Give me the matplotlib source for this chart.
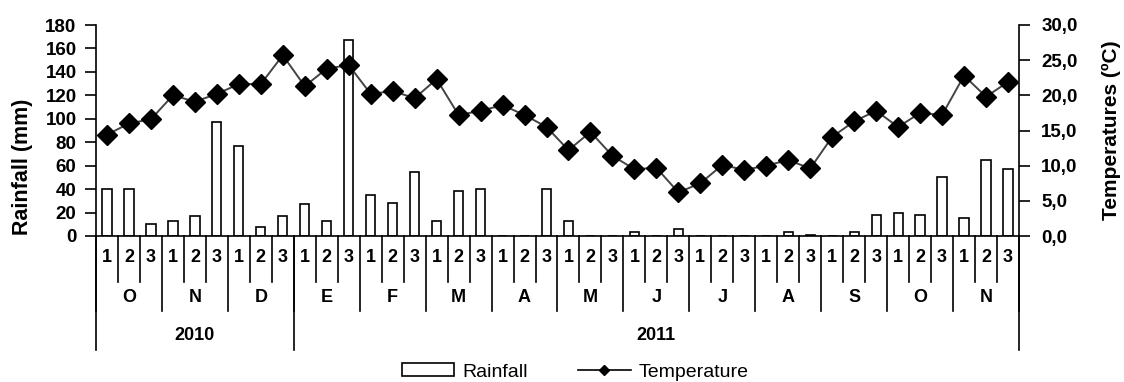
import matplotlib
matplotlib.use("Agg")
import matplotlib.pyplot as plt
from matplotlib.patches import Rectangle
from matplotlib.lines import Line2D
import numpy as np

plt.rcParams['font.family'] = ['Liberation Sans', 'DejaVu Sans']

# 10-day periods (dekads), Oct 2010 - Nov 2011
months = ['O', 'N', 'D', 'E', 'F', 'M', 'A', 'M', 'J', 'J', 'A', 'S', 'O', 'N']
years = ['2010', '2011']
months_per_year = [3, 11]
dekad_labels = ['1', '2', '3']

rainfall = [40, 40, 10, 13, 17, 97, 77, 8, 17, 27, 13, 167, 35, 28,
            55, 13, 38, 40, 0, 0, 40, 13, 0, 0, 3, 0, 6, 0,
            0, 0, 0, 3, 1, 0, 3, 18, 20, 18, 50, 15, 65, 57]
temperature = [14.4, 16.0, 16.6, 20.0, 19.1, 20.2, 21.6, 21.6, 25.7, 21.3, 23.8, 24.3, 20.2, 20.6,
               19.6, 22.3, 17.2, 17.8, 18.6, 17.2, 15.5, 12.2, 14.8, 11.4, 9.5, 9.7, 6.2, 7.5,
               10.1, 9.4, 10.0, 10.8, 9.6, 14.1, 16.3, 17.8, 15.5, 17.5, 17.2, 22.8, 19.8, 21.9]

W, H = 1124, 382
fig = plt.figure(figsize=(W / 100, H / 100), dpi=100)
left, right, top, bottom = 96, 1019, 25, 236
ax = fig.add_axes([left / W, 1 - bottom / H, (right - left) / W, (bottom - top) / H])

tick_fs = 13.5
cat_fs = 13

n = len(rainfall)
x = np.arange(n)
ax.bar(x, rainfall, width=0.42, color='white', edgecolor='black', linewidth=1.2, zorder=2)
ax.set_xlim(-0.5, n - 0.5)
ax.set_ylim(0, 180)
ax.set_yticks(np.arange(0, 181, 20))
ax.set_xticks([])
ax.tick_params(axis='y', direction='out', length=8, width=1.2, labelsize=tick_fs, pad=6)
for lab in ax.get_yticklabels():
    lab.set_fontweight('bold')
ax.spines['top'].set_visible(False)
ax.spines['right'].set_visible(False)
for s in ['left', 'bottom']:
    ax.spines[s].set_linewidth(1.2)
ax.set_ylabel('Rainfall (mm)', fontsize=15.5, fontweight='bold')
ax.yaxis.set_label_coords(-0.068, 0.33)

ax2 = ax.twinx()
ax2.plot(x, temperature, color='#444444', linewidth=1.4, marker='D', markersize=10,
         markerfacecolor='black', markeredgecolor='black', zorder=3)
ax2.set_ylim(0, 30)
ax2.set_yticks(np.arange(0, 31, 5))
ax2.set_yticklabels([f'{v:.1f}'.replace('.', ',') for v in np.arange(0, 31, 5)])
ax2.tick_params(axis='y', direction='out', length=8, width=1.2, labelsize=tick_fs, pad=8)
for lab in ax2.get_yticklabels():
    lab.set_fontweight('bold')
ax2.spines['top'].set_visible(False)
ax2.spines['left'].set_visible(False)
ax2.spines['bottom'].set_visible(False)
ax2.spines['right'].set_linewidth(1.2)
ax2.set_ylabel('Temperatures (ºC)', fontsize=15, fontweight='bold')
ax2.yaxis.set_label_coords(1.090, 0.5)

# category table under the axis
tr = ax.get_xaxis_transform()
ph = bottom - top
def fy(py):
    return (bottom - py) / ph

for i in range(n):
    ax.text(i, fy(258), dekad_labels[i % 3], transform=tr, ha='center', va='center',
            fontsize=cat_fs, fontweight='bold')
for k in range(n + 1):
    xb = k - 0.5
    if k % 3 != 0:
        yb = fy(282)
    else:
        yb = fy(311)
    ax.plot([xb, xb], [0, yb], transform=tr, color='black', lw=1.2, clip_on=False)
for m, name in enumerate(months):
    ax.text(3 * m + 1, fy(298), name, transform=tr, ha='center', va='center',
            fontsize=cat_fs, fontweight='bold')
start = 0
for yname, cnt in zip(years, months_per_year):
    ax.text(start * 3 + cnt * 3 / 2 - 0.5, fy(335), yname, transform=tr, ha='center',
            va='center', fontsize=cat_fs, fontweight='bold')
    start += cnt
bounds = [-0.5]
acc = 0
for cnt in months_per_year:
    acc += cnt
    bounds.append(acc * 3 - 0.5)
for xb in bounds:
    ax.plot([xb, xb], [0, fy(350)], transform=tr, color='black', lw=1.2, clip_on=False)

handles = [Rectangle((0, 0), 1, 1, facecolor='white', edgecolor='black', linewidth=1.2),
           Line2D([], [], color='black', lw=1.2, marker='D', markersize=5)]
fig.legend(handles, ['Rainfall', 'Temperature'], loc='center', ncol=2, frameon=False,
           bbox_to_anchor=(575 / W, 1 - 372 / H), fontsize=14, handlelength=2.7,
           handleheight=0.6, columnspacing=2.6, handletextpad=0.4, borderpad=0.2)

fig.savefig('out.png', dpi=100)
